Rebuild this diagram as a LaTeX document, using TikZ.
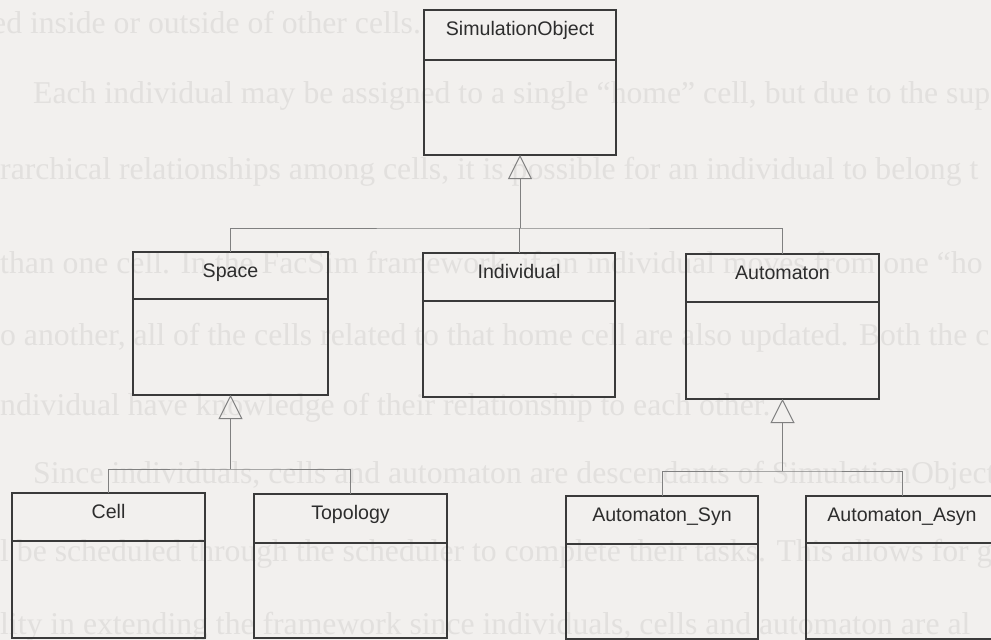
\documentclass[tikz,border=0pt]{standalone}
\usepackage{fontspec}
\setmainfont{Liberation Serif}
\newfontfamily\umlfont{Liberation Sans}
\usetikzlibrary{arrows.meta,calc}

\definecolor{paper}{RGB}{242,240,238}
\definecolor{ghost}{RGB}{226,224,222}
\definecolor{boxline}{RGB}{58,58,58}
\definecolor{wire}{RGB}{128,128,128}
\definecolor{label}{RGB}{45,45,45}

% \umlclass{name}{title}{left}{top}{right}{bottom}{separator}
\newcommand\umlclass[7]{%
  \node[classbox, minimum width={#5-#3}, minimum height={#6-#4}] (#1) at (#3,#4) {};
  \draw[boxrule] (#1.west |- 0,#7) -- (#1.east |- 0,#7);
  \node[classname] (#1-name) at ([yshift=-25.5pt]#1.north) {#2};
}

\begin{document}
\begin{tikzpicture}[x=1pt,y=-1pt,
  pagetext/.style={anchor=base west, inner sep=0pt, text=ghost,
    font=\fontsize{31.7}{38}\selectfont},
  classbox/.style={draw=boxline, line width=1.6pt, inner sep=0pt, outer sep=0pt,
    anchor=north west},
  boxrule/.style={draw=boxline, line width=1.6pt},
  classname/.style={anchor=base, inner sep=0pt, text=label,
    font=\umlfont\fontsize{19.6}{22}\selectfont},
  wireline/.style={draw=wire, line width=1pt},
  inherit/.style={wireline, -{Triangle[open, length=24pt, width=24pt]}}
]
\useasboundingbox (0,0) rectangle (991,640);
\fill[paper] (0,0) rectangle (991,640);

% text of the page showing through
\node[pagetext] (p1) at (-8,33)  {ed inside or outside of other cells.};
\node[pagetext] (p2) at (33,103) {Each individual may be assigned to a single “home” cell, but due to the sup};
\node[pagetext] (p3) at (0,179)  {rarchical relationships among cells, it is possible for an individual to belong t};
\node[pagetext] (p4) at (0,273)  {than one cell. In the FacSim framework, if an individual moves from one “ho};
\node[pagetext] (p5) at (0,345)  {o another, all of the cells related to that home cell are also updated. Both the c};
\node[pagetext] (p6) at (0,415)  {ndividual have knowledge of their relationship to each other.};
\node[pagetext] (p7) at (33,483) {Since individuals, cells and automaton are descendants of SimulationObject};
\node[pagetext] (p8) at (0,561)  {l be scheduled through the scheduler to complete their tasks. This allows for g};
\node[pagetext] (p9) at (0,634)  {lity in extending the framework since individuals, cells and automaton are al};

% classes
\umlclass{simobj}{SimulationObject}{424}{10}{616}{155}{60}
\umlclass{space}{Space}{133}{252}{328}{395}{299}
\umlclass{individual}{Individual}{423}{253}{615}{397}{301}
\umlclass{automaton}{Automaton}{686}{254}{879}{399}{302}
\umlclass{cell}{Cell}{12}{493}{205}{638}{541}
\umlclass{topology}{Topology}{254}{494}{447}{638}{543}
\umlclass{autosyn}{Automaton\_Syn}{566}{496}{758}{639}{544}
\umlclass{autoasyn}{Automaton\_Asyn}{806}{496}{998}{639}{543}

% generalisation buses
\coordinate (busTop) at (simobj.south |- 0,228);
\draw[wireline] (space.north) |- (busTop) -| (automaton.north);
\draw[wireline] (individual.north) -- (individual.north |- busTop);
\draw[inherit] (busTop) -- (simobj.south);

\coordinate (busSpace) at (space.south |- 0,469);
\draw[wireline] (cell.north) |- (busSpace) -| (topology.north);
\draw[inherit] (busSpace) -- (space.south);

\coordinate (busAuto) at (automaton.south |- 0,471);
\draw[wireline] (autosyn.north) |- (busAuto) -| (autoasyn.north);
\draw[inherit] (busAuto) -- (automaton.south);
\end{tikzpicture}
\end{document}
